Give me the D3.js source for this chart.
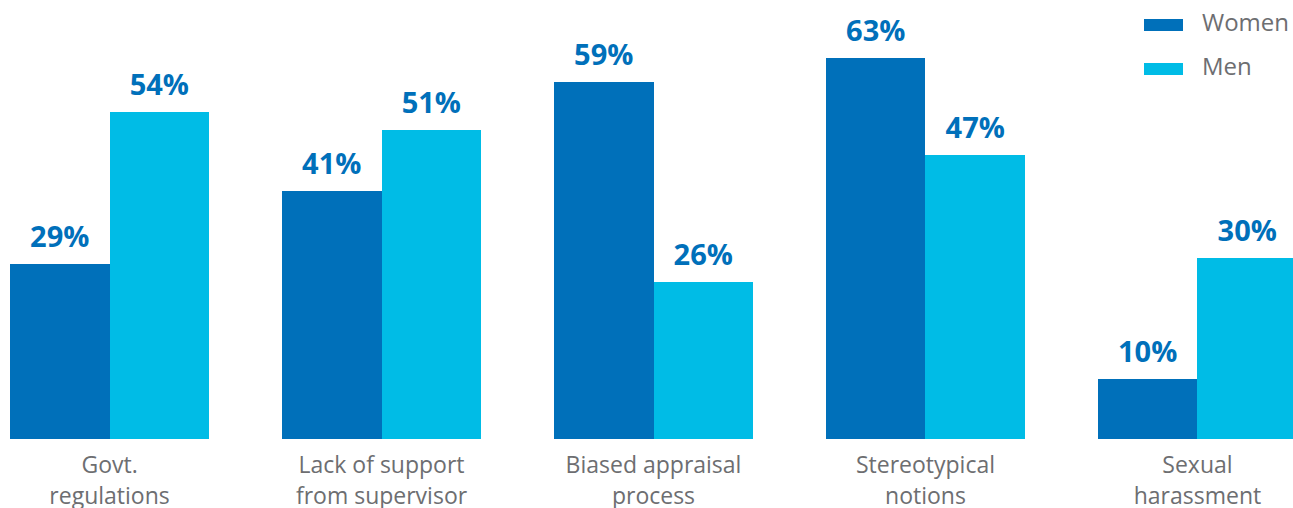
<!DOCTYPE html>
<html>
<head>
<meta charset="utf-8">
<script src="https://cdn.jsdelivr.net/npm/d3@7"></script>
<style>
  html, body { margin: 0; padding: 0; background: #ffffff; }
  svg { display: block; }
</style>
</head>
<body>
<svg id="chart" width="1293" height="508"></svg>
<script>
// Share of respondents citing each barrier, by gender (%)
const categories = [
  ["Govt.", "regulations"],
  ["Lack of support", "from supervisor"],
  ["Biased appraisal", "process"],
  ["Stereotypical", "notions"],
  ["Sexual", "harassment"]
];
const seriesNames = ["Women", "Men"];
const women = [29, 41, 59, 63, 10];
const men = [54, 51, 26, 47, 30];

const FONT = "Open Sans";
const colors = { Women: "#0070BA", Men: "#00BCE6" };
const labelColor = "#0070BA";
const textColor = "#6D6E71";

const svg = d3.select("#chart");
const baseline = 439;

const keys = categories.map(c => c.join(" "));
const rows = keys.map((k, i) => ({ key: k, lines: categories[i], Women: women[i], Men: men[i] }));

const x0 = d3.scaleBand().domain(keys).range([10, 1297]).paddingInner(0.268).paddingOuter(0);
const x1 = d3.scaleBand().domain(seriesNames).range([0, x0.bandwidth()]).padding(0);
const y = d3.scaleLinear().domain([0, 100]).range([baseline, baseline - 605]);

const groups = svg.append("g").selectAll("g")
  .data(rows).join("g")
  .attr("transform", d => `translate(${x0(d.key)},0)`);

groups.selectAll("rect")
  .data(d => seriesNames.map(s => ({ s, v: d[s] })))
  .join("rect")
  .attr("x", d => x1(d.s))
  .attr("width", x1.bandwidth() + (d => 0)())
  .attr("y", d => y(d.v))
  .attr("height", d => y(0) - y(d.v))
  .attr("fill", d => colors[d.s])
  .attr("shape-rendering", "crispEdges");

groups.selectAll("text.val")
  .data(d => seriesNames.map(s => ({ s, v: d[s] })))
  .join("text")
  .attr("class", "val")
  .attr("x", d => x1(d.s) + x1.bandwidth() / 2)
  .attr("y", d => y(d.v) - 17)
  .attr("text-anchor", "middle")
  .attr("font-family", FONT)
  .attr("font-size", 29)
  .attr("font-weight", 700)
  .attr("fill", labelColor)
  .text(d => d.v + "%");

// Category axis labels (two lines each)
const axis = svg.append("g").attr("transform", `translate(0,${baseline})`)
  .call(d3.axisBottom(x0).tickSize(0).tickFormat(""));
axis.select(".domain").remove();

axis.selectAll(".tick").each(function(d, i) {
  const t = d3.select(this).append("text")
    .attr("text-anchor", "middle")
    .attr("font-family", FONT)
    .attr("font-size", 23)
    .attr("fill", textColor);
  categories[i].forEach((line, j) => {
    t.append("tspan").attr("x", 0).attr("y", 34 + j * 31).text(line);
  });
});

// Legend
const legend = svg.append("g").selectAll("g")
  .data(seriesNames).join("g")
  .attr("transform", (d, i) => `translate(1144,${19 + i * 44})`);
legend.append("rect")
  .attr("width", 39).attr("height", 12)
  .attr("fill", d => colors[d]);
legend.append("text")
  .attr("x", 58).attr("y", 12)
  .attr("font-family", FONT)
  .attr("font-size", 24)
  .attr("fill", textColor)
  .text(d => d);
</script>
</body>
</html>
